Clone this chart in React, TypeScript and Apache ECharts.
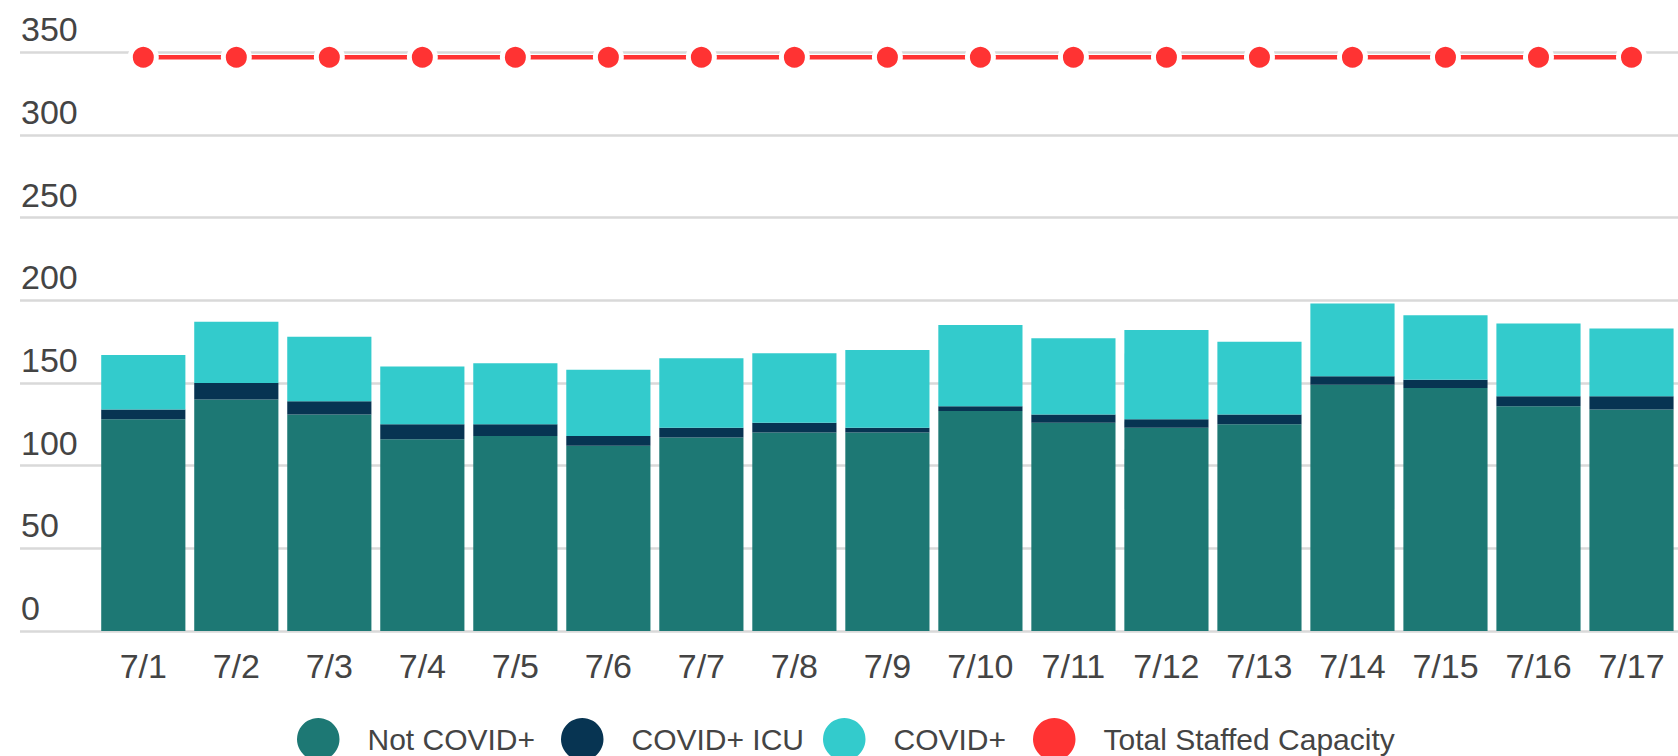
import React, { useEffect, useRef } from "react";
import * as echarts from "echarts";

const categories = ["7/1", "7/2", "7/3", "7/4", "7/5", "7/6", "7/7", "7/8", "7/9", "7/10", "7/11", "7/12", "7/13", "7/14", "7/15", "7/16", "7/17"];
const notCovid = [128, 140, 131, 116, 118, 112, 117, 120, 120, 133, 126, 123, 125, 149, 147, 136, 134];
const covidIcu = [6, 10, 8, 9, 7, 6, 6, 6, 3, 3, 5, 5, 6, 5, 5, 6, 8];
const covidPos = [33, 37, 39, 35, 37, 40, 42, 42, 47, 49, 46, 54, 44, 44, 39, 44, 41];
const capacity = [347, 347, 347, 347, 347, 347, 347, 347, 347, 347, 347, 347, 347, 347, 347, 347, 347];
const yTicks = { min: 0, max: 350, interval: 50 };
const seriesNames = ["Not COVID+", "COVID+ ICU", "COVID+", "Total Staffed Capacity"];

const COLORS = ["#1d7874", "#073452", "#33cbcc", "#ff3333"];
const TEXT = "#444444";
const GRID = "#d9d9d9";
const NUM_FONT = "'Liberation Sans', Arial, sans-serif";
const LEG_FONT = "'Liberation Sans', Arial, sans-serif";

export default function App() {
  const ref = useRef<HTMLDivElement>(null);

  useEffect(() => {
    document.body.style.margin = "0";
    if (!ref.current) return;
    const chart = echarts.init(ref.current, undefined, { renderer: "svg" });
    const legendLefts = [297, 561, 823, 1033];
    chart.setOption({
      animation: false,
      backgroundColor: "#ffffff",
      grid: [
        { left: 20, right: 0, top: 52.3, bottom: 125 },
        { left: 96.8, right: -5, top: 52.3, bottom: 125 },
      ],
      xAxis: [
        { gridIndex: 0, type: "value", show: false, min: 0, max: 1 },
        {
          gridIndex: 1,
          type: "category",
          data: categories,
          axisLine: { show: false },
          axisTick: { show: false },
          axisLabel: { color: TEXT, fontSize: 34, fontFamily: NUM_FONT, margin: 18 },
        },
      ],
      yAxis: [
        {
          gridIndex: 0,
          type: "value",
          ...yTicks,
          axisLine: { show: false },
          axisTick: { show: false },
          splitLine: { lineStyle: { color: GRID, width: 2.5 } },
          axisLabel: {
            inside: true,
            margin: 1,
            align: "left",
            verticalAlign: "bottom",
            padding: [0, 0, 6, 0],
            color: TEXT,
            fontSize: 34,
            fontFamily: NUM_FONT,
          },
        },
        { gridIndex: 1, type: "value", ...yTicks, show: false, splitLine: { show: false } },
      ],
      legend: seriesNames.map((name, i) => ({
        data: [{ name, icon: "circle" }],
        left: legendLefts[i],
        top: 718,
        padding: 0,
        itemWidth: 42.5,
        itemHeight: 42.5,
        itemStyle: { borderWidth: 0 },
        selectedMode: false,
        textStyle: { color: TEXT, fontSize: 30, fontFamily: LEG_FONT, padding: [0, 0, 0, 23] },
      })),
      series: [
        {
          name: seriesNames[0],
          type: "bar",
          stack: "total",
          xAxisIndex: 1,
          yAxisIndex: 1,
          data: notCovid,
          barCategoryGap: "9.5%",
          itemStyle: { color: COLORS[0] },
        },
        {
          name: seriesNames[1],
          type: "bar",
          stack: "total",
          xAxisIndex: 1,
          yAxisIndex: 1,
          data: covidIcu,
          barCategoryGap: "9.5%",
          itemStyle: { color: COLORS[1] },
        },
        {
          name: seriesNames[2],
          type: "bar",
          stack: "total",
          xAxisIndex: 1,
          yAxisIndex: 1,
          data: covidPos,
          barCategoryGap: "9.5%",
          itemStyle: { color: COLORS[2] },
        },
        {
          name: seriesNames[3],
          type: "line",
          xAxisIndex: 1,
          yAxisIndex: 1,
          data: capacity,
          symbol: "circle",
          symbolSize: 26,
          z: 5,
          lineStyle: { color: COLORS[3], width: 4.5 },
          itemStyle: { color: COLORS[3], borderColor: "#ffffff", borderWidth: 5 },
        },
      ],
    });
    return () => chart.dispose();
  }, []);

  return <div ref={ref} style={{ width: 1678, height: 756 }} />;
}
